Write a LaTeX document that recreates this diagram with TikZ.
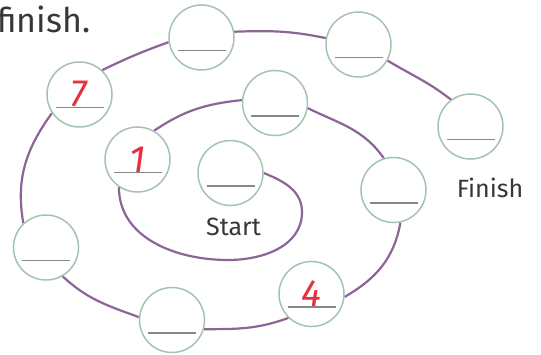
\documentclass[tikz,border=0pt]{standalone}
\usepackage{fontspec}
\setmainfont{Fira Sans}
\usetikzlibrary{backgrounds}
\definecolor{spiral}{RGB}{140,100,150}
\definecolor{ringc}{RGB}{165,195,180}
\definecolor{ulc}{RGB}{135,135,135}
\definecolor{txt}{RGB}{55,55,55}
\definecolor{redhand}{RGB}{230,50,60}
\begin{document}
\begin{tikzpicture}[x=1pt,y=1pt,
  ring/.style={circle,draw=ringc,line width=1.5pt,fill=white,minimum size=65pt,inner sep=0pt,
    path picture={\draw[ulc,line width=1.5pt] ([xshift=-24pt,yshift=-13pt]path picture bounding box.center) -- ++(48pt,0pt);}},
  road/.style={draw=spiral,line width=2.2pt},
  lbl/.style={text=txt,font=\fontsize{25}{30}\selectfont,inner sep=0pt},
  hdigit/.style={text=redhand,font=\fontsize{38}{40}\selectfont\itshape,inner sep=0pt,anchor=base}]
\useasboundingbox (0,0) rectangle (541,354);

\node[ring] (S)   at (230.5,181) {};
\node[ring] (c1)  at (137.5,194.5) {};
\node[ring] (c2)  at (275,251) {};
\node[ring] (c3)  at (393.5,164) {};
\node[ring] (c4)  at (311.5,60) {};
\node[ring] (c5)  at (172,34) {};
\node[ring] (c6)  at (46,106.5) {};
\node[ring] (c7)  at (79.5,259.5) {};
\node[ring] (c8)  at (201.5,316.5) {};
\node[ring] (c9)  at (358.5,309.5) {};
\node[ring] (c10) at (470.5,227.5) {};

\node[hdigit] (d7) at (79,247.5) {7};
\node[hdigit] (d1) at (138,182) {1};
\node[hdigit] (d4) at (311,47.5) {4};

\node[lbl,anchor=base] (start) at (233.5,119) {Start};
\node[lbl,anchor=base] (finish) at (490,157) {Finish};
\node[lbl,font=\fontsize{34}{40}\selectfont,anchor=base east] (title) at (90.5,321) {finish.};

\begin{scope}[on background layer]
\fill[white] (0,0) rectangle (541,354);
\coordinate (lr) at (302,142);
\coordinate (lb) at (228,94);
\draw[road] (S.0) to[out=-22,in=90] (lr) to[out=-90,in=0] (lb) to[out=180,in=-90] (c1.236);
\draw[road] (c1.60) to[out=34,in=186] (c2.175);
\draw[road] (c2.-9) to[out=-26,in=125] (c3.107);
\draw[road] (c3.-78) to[out=-100,in=30] (c4.-5);
\draw[road] (c4.226) to[out=200,in=0] (c5.-16);
\draw[road] (c5.175) to[out=160,in=-43] (c6.-60);
\draw[road] (c6.133) to[out=100,in=234] (c7.214);
\draw[road] (c7.47) to[out=26,in=200] (c8.188);
\draw[road] (c8.10) to[out=2,in=168] (c9.169);
\draw[road] (c9.-29) to[out=-31,in=142] (c10.126);
\end{scope}
\end{tikzpicture}
\end{document}
